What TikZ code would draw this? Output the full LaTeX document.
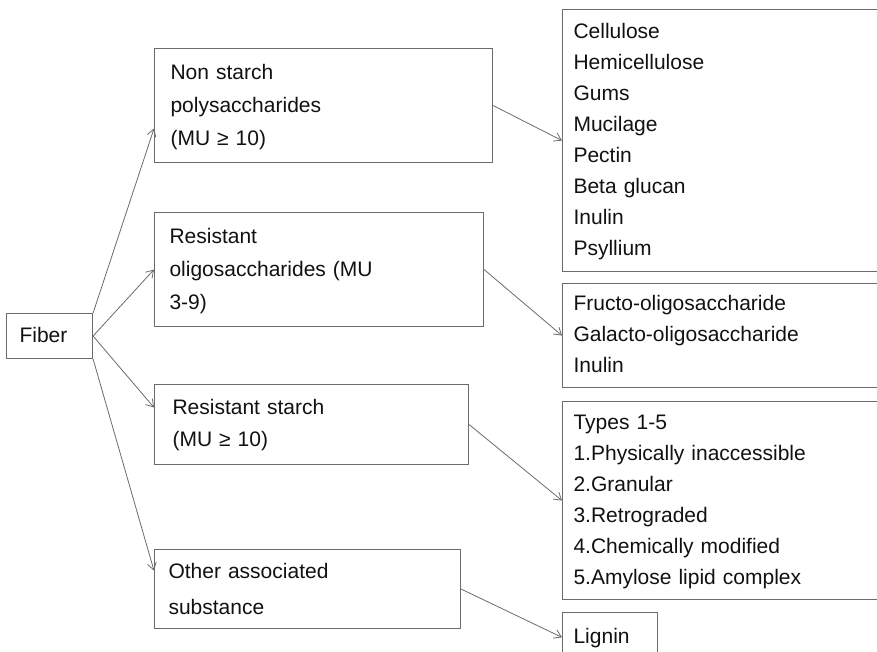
\documentclass[tikz,border=0pt]{standalone}
\usepackage{fontspec}
\setmainfont{Liberation Sans}
\usetikzlibrary{arrows.meta,calc}
\definecolor{linegrey}{HTML}{6B6B6B}
\definecolor{textgrey}{HTML}{111111}
\begin{document}
\begin{tikzpicture}[x=1pt, y=-1pt,
    main/.style = {draw=linegrey, line width=1.1pt, text=textgrey, anchor=north west, align=left,
                   execute at begin node=\strut, execute at end node=\strut},
    lines/.style = {font=\fontsize{21}{#1}\selectfont},
    link/.style = {draw=linegrey, line width=0.8pt, -{Straight Barb[length=7pt,width=9pt]}}]
    \useasboundingbox (0,0) rectangle (877,652);
    \clip (0,0) rectangle (877,652);
    % left column
    \node[main, lines=31, text width=60pt, inner xsep=13pt, inner ysep=7pt] (fiber) at (6,313) {Fiber};
    \node[main, lines=33, text width=306pt, inner xsep=16pt, inner ysep=7.5pt] (nsp) at (154,48) {Non starch\\polysaccharides\\(MU ≥ 10)};
    \node[main, lines=33, text width=299pt, inner xsep=15pt, inner ysep=7.5pt] (ro) at (154,212) {Resistant\\oligosaccharides (MU\\3-9)};
    \node[main, lines=32, text width=278pt, inner xsep=18pt, inner ysep=8pt] (rs) at (154,384) {Resistant starch\\(MU ≥ 10)};
    \node[main, lines=36, text width=278pt, inner xsep=14pt, inner ysep=3.5pt] (oth) at (154,549) {Other associated\\substance};
    % right column
    \node[main, lines=31, text width=330pt, inner xsep=11pt, inner ysep=7pt] (cel) at (562,9) {Cellulose\\Hemicellulose\\Gums\\Mucilage\\Pectin\\Beta glucan\\Inulin\\Psyllium};
    \node[main, lines=31, text width=330pt, inner xsep=11pt, inner ysep=5.5pt] (fos) at (562,283) {Fructo-oligosaccharide\\Galacto-oligosaccharide\\Inulin};
    \node[main, lines=31, text width=330pt, inner xsep=11pt, inner ysep=6pt] (typ) at (562,401) {Types 1-5\\1.Physically inaccessible\\2.Granular\\3.Retrograded\\4.Chemically modified\\5.Amylose lipid complex};
    \node[main, lines=31, text width=73pt, inner xsep=11pt, inner ysep=9.3pt] (lig) at (562,612) {Lignin};
    % arrows
    \draw[link] (fiber.north east) -- ($(nsp.north west)!0.7!(nsp.south west)$);
    \draw[link] (fiber.east) -- (ro.west);
    \draw[link] (fiber.east) -- ($(rs.north west)!0.29!(rs.south west)$);
    \draw[link] (fiber.south east) -- ($(oth.north west)!0.27!(oth.south west)$);
    \draw[link] (nsp.east) -- (cel.west);
    \draw[link] (ro.east) -- (fos.west);
    \draw[link] (rs.east) -- (typ.west);
    \draw[link] (oth.east) -- (lig.west);
\end{tikzpicture}
\end{document}
